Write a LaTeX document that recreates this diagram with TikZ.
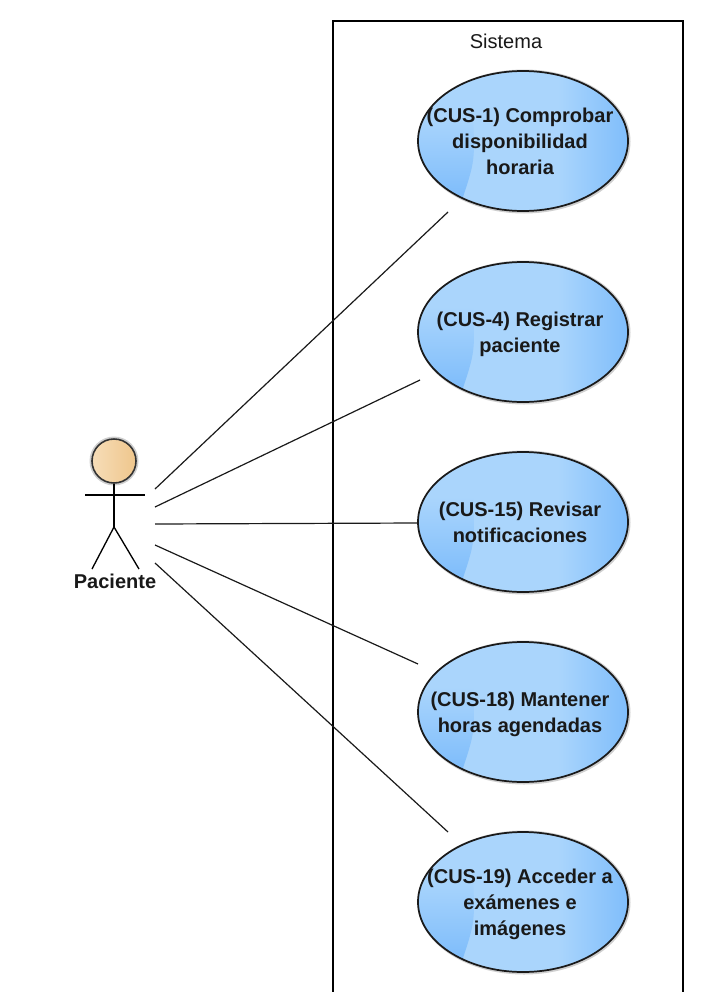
\documentclass[tikz,border=0pt]{standalone}
\usepackage{fontspec}
\setmainfont{Liberation Sans}
\usetikzlibrary{shapes.geometric,shadings,calc}
\definecolor{ucbase}{HTML}{AAD5FC}
\definecolor{ucdark}{HTML}{7FBDFB}
\definecolor{headbase}{HTML}{F6DDB8}
\definecolor{headdark}{HTML}{EFC68C}
\definecolor{shadowgrey}{HTML}{A8A8A8}
\definecolor{linegrey}{HTML}{1A1A1A}
\tikzset{
  x=0.75pt,y=-0.75pt,
  usecase/.style={ellipse,draw=linegrey,line width=1.3pt,minimum width=157.5pt,minimum height=105pt,inner sep=0pt,
    path picture={
      \fill[ucbase] (path picture bounding box.south west) rectangle (path picture bounding box.north east);
      \shade[left color=ucbase,right color=ucdark] ($(path picture bounding box.center)+(35,-75)$) rectangle ($(path picture bounding box.center)+(106,75)$);
      \begin{scope}
      \clip ($(path picture bounding box.center)+(-110,-25)$) -- ($(path picture bounding box.center)+(-50,-25)$) .. controls ($(path picture bounding box.center)+(-48,20)$) .. ($(path picture bounding box.center)+(-62,62)$) -- ($(path picture bounding box.center)+(-110,62)$) -- cycle;
      \shade[top color=ucbase,bottom color=ucdark] ($(path picture bounding box.center)+(-110,-25)$) rectangle ($(path picture bounding box.center)+(-40,55)$);
      \end{scope}
    }},
  uctext/.style={font=\fontsize{15pt}{19.5pt}\selectfont\bfseries,align=center,text=black!90,inner sep=0pt,xshift=-2.25pt,yshift=-1.5pt},
  assoc/.style={draw=linegrey,line width=0.9pt},
  stick/.style={draw=black,line width=1pt},
  sysframe/.style={draw=black,line width=1pt},
  caption/.style={font=\fontsize{15pt}{16pt}\selectfont,text=black!90,inner sep=0pt},
}
\begin{document}
\begin{tikzpicture}
\useasboundingbox (0,0) rectangle (702,992);
\draw[sysframe] (333,992) -- (333,21) -- (683,21) -- (683,992);
\node[caption] (sistema) at (506,41) {Sistema};
% soft shadows
\foreach \yy in {141,332,522,712,902}{
  \fill[shadowgrey,opacity=0.55] (524,\yy+0.5) ellipse [x radius=106.5,y radius=72];
}
\node[usecase,label={[uctext,yshift=1.5pt]center:{(CUS-1) Comprobar\\disponibilidad\\horaria}}] (c1) at (523,141) {};
\node[usecase,label={[uctext]center:{(CUS-4) Registrar\\paciente}}] (c4) at (523,332) {};
\node[usecase,label={[uctext,yshift=1.5pt]center:{(CUS-15) Revisar\\notificaciones}}] (c15) at (523,522) {};
\node[usecase,label={[uctext]center:{(CUS-18) Mantener\\horas agendadas}}] (c18) at (523,712) {};
\node[usecase,label={[uctext]center:{(CUS-19) Acceder a\\exámenes e\\imágenes}}] (c19) at (523,902) {};
% actor
\fill[shadowgrey,opacity=0.55] (114,461) circle [radius=24.5];
\node[circle,draw=black!80,line width=1.2pt,minimum size=33pt,inner sep=0pt,left color=headbase,right color=headdark] (head) at (114,461) {};
\coordinate (hip) at (114,527);
\coordinate (armL) at (85,495);
\coordinate (armR) at (145,495);
\coordinate (footL) at (92,569);
\coordinate (footR) at (139,569);
\draw[stick] (head.south) -- (hip);
\draw[stick] (armL) -- (armR);
\draw[stick] (footL) -- (hip) -- (footR);
\node[caption,font=\fontsize{15pt}{16pt}\selectfont\bfseries] (paciente) at (115,581) {Paciente};
% associations
\coordinate (a1) at (155,489); \coordinate (e1) at (448,212);
\coordinate (a4) at (155,507); \coordinate (e4) at (420,380);
\coordinate (a15) at (155,524); \coordinate (e15) at (418,523);
\coordinate (a18) at (155,545); \coordinate (e18) at (418,664);
\coordinate (a19) at (155,563); \coordinate (e19) at (448,832);
\draw[assoc] (a1) -- (e1);
\draw[assoc] (a4) -- (e4);
\draw[assoc] (a15) -- (e15);
\draw[assoc] (a18) -- (e18);
\draw[assoc] (a19) -- (e19);
\end{tikzpicture}
\end{document}
